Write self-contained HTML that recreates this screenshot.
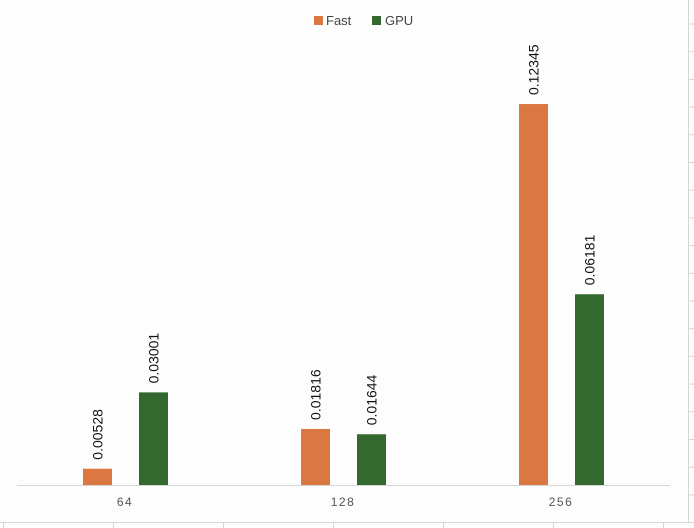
<!DOCTYPE html>
<html><head><meta charset="utf-8"><style>
body{margin:0;background:#fdfdfd;}
svg{display:block;font-family:"Liberation Sans",sans-serif;}
</style></head><body>
<svg id="c" width="694" height="528">
<g id="frame"></g>
<g id="bars"></g>
<g>
<g><rect x="314" y="16" width="9" height="9" fill="#db7841"/><text x="326" y="25" font-size="13" fill="#444">Fast</text></g>
<g><rect x="372" y="16" width="9" height="9" fill="#33692e"/><text x="385" y="25" font-size="13" fill="#444">GPU</text></g>
</g>
</svg>
<script>
const categories=["64","128","256"];
const fastValues=[0.00528,0.01816,0.12345];
const gpuValues=[0.03001,0.01644,0.06181];
const fastLabels=["0.00528","0.01816","0.12345"];
const gpuLabels=["0.03001","0.01644","0.06181"];
const NS="http://www.w3.org/2000/svg";
const base=485, pxPerUnit=3086;
function y(v){return base-v*pxPerUnit;}
function cx(i){return 125+i*218;}
function mk(t,a,p){const e=document.createElementNS(NS,t);for(const k in a)e.setAttribute(k,a[k]);p.appendChild(e);return e;}
const fr=document.getElementById('frame'), bg=document.getElementById('bars');
const ax=mk('line',{x1:17,x2:670,y1:base+0.5,y2:base+0.5,stroke:'#d6d6d6'},fr);


mk('line',{x1:688.5,x2:688.5,y1:0,y2:522,stroke:'#d6d6d6'},fr);
mk('line',{x1:0,x2:694,y1:522.5,y2:522.5,stroke:'#d6d6d6'},fr);
for(let i=0;i<18;i++){mk('line',{x1:688,x2:694,y1:24+i*27.7,y2:24+i*27.7,stroke:'#d6d6d6'},fr);}
for(let i=0;i<7;i++){mk('line',{x1:3.5+i*110,x2:3.5+i*110,y1:522,y2:528,stroke:'#d6d6d6'},fr);}
function bar(v,lbl,x,col,name){
 const r=mk('rect',{x:x,y:y(v),width:29,height:base-y(v),fill:col},bg);
 
 
 const t=mk('text',{x:0,y:0,'font-size':14,fill:'#111',transform:`translate(${x+19.5},${y(v)-9}) rotate(-90)`},bg);
 
 
 t.textContent=lbl;
}
categories.forEach((c,i)=>{
 bar(fastValues[i],fastLabels[i],cx(i)-42,'#db7841','bar-fast-'+c);
 bar(gpuValues[i],gpuLabels[i],cx(i)+14,'#33692e','bar-gpu-'+c);
 const t=mk('text',{x:cx(i),y:506,'font-size':12,fill:'#555','text-anchor':'middle','letter-spacing':'1.5'},fr);
 
 
 t.textContent=c;
});
</script>
</body></html>
